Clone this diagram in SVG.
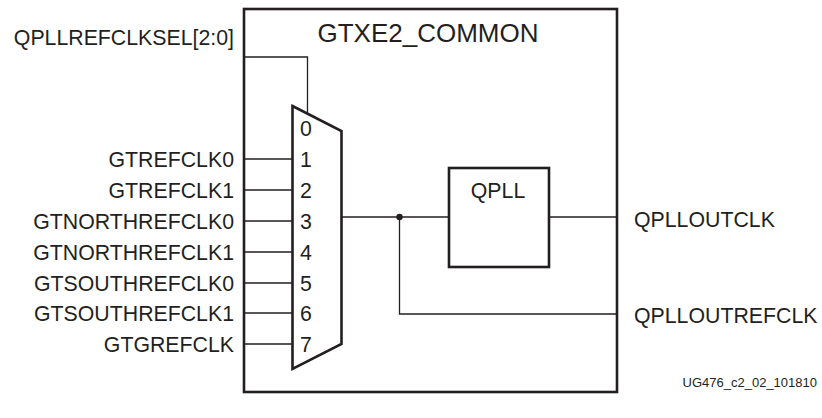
<svg xmlns="http://www.w3.org/2000/svg" width="822" height="418" viewBox="0 0 822 418">
<style>
text{font-family:"Liberation Sans",Arial,sans-serif;fill:#231f20}
.lbl{font-size:21.3px}
.r{text-anchor:end}
.thick{fill:none;stroke:#231f20;stroke-width:2.6}
.thin{fill:none;stroke:#231f20;stroke-width:1.3}
</style>
<rect width="822" height="418" fill="#fff"/>
<g id="gtxe2_common">
<rect class="thick" x="244" y="9" width="373" height="383"/>
<text x="428" y="42" style="font-size:26px;text-anchor:middle">GTXE2_COMMON</text>
</g>
<g id="mux">
<polygon class="thick" points="292.5,106 341.5,131 341.5,344 292.5,369"/>
<text class="lbl" x="300" y="135.5">0</text>
<text class="lbl" x="300" y="166.5">1</text>
<text class="lbl" x="300" y="197.5">2</text>
<text class="lbl" x="300" y="228.5">3</text>
<text class="lbl" x="300" y="259.5">4</text>
<text class="lbl" x="300" y="290.5">5</text>
<text class="lbl" x="300" y="320.5">6</text>
<text class="lbl" x="300" y="351.5">7</text>
</g>
<g id="qpll">
<rect class="thick" x="449" y="168" width="100" height="99"/>
<text class="lbl" x="498" y="198" text-anchor="middle">QPLL</text>
</g>
<g id="inputs">
<text class="lbl r" x="234" y="45">QPLLREFCLKSEL[2:0]</text>
<text class="lbl r" x="234" y="167">GTREFCLK0</text>
<text class="lbl r" x="234" y="198">GTREFCLK1</text>
<text class="lbl r" x="234" y="229">GTNORTHREFCLK0</text>
<text class="lbl r" x="234" y="260">GTNORTHREFCLK1</text>
<text class="lbl r" x="234" y="291">GTSOUTHREFCLK0</text>
<text class="lbl r" x="234" y="321">GTSOUTHREFCLK1</text>
<text class="lbl r" x="234" y="352">GTGREFCLK</text>
</g>
<g id="outputs">
<text class="lbl" x="634" y="226.5">QPLLOUTCLK</text>
<text class="lbl" x="634" y="323">QPLLOUTREFCLK</text>
</g>
<g id="connectors">
<polyline class="thin" points="244,57 307.5,57 307.5,114"/>
<line class="thin" x1="244" y1="159" x2="292.5" y2="159"/>
<line class="thin" x1="244" y1="190" x2="292.5" y2="190"/>
<line class="thin" x1="244" y1="221" x2="292.5" y2="221"/>
<line class="thin" x1="244" y1="252" x2="292.5" y2="252"/>
<line class="thin" x1="244" y1="283" x2="292.5" y2="283"/>
<line class="thin" x1="244" y1="313" x2="292.5" y2="313"/>
<line class="thin" x1="244" y1="344" x2="292.5" y2="344"/>
<line class="thin" x1="341.5" y1="217" x2="449" y2="217"/>
<line class="thin" x1="549" y1="217" x2="617" y2="217"/>
<polyline class="thin" points="399.5,217 399.5,314 617,314"/>
<circle cx="399.5" cy="217" r="3.2" fill="#231f20"/>
</g>
<text x="817" y="387" style="font-size:13px;text-anchor:end">UG476_c2_02_101810</text>
</svg>
